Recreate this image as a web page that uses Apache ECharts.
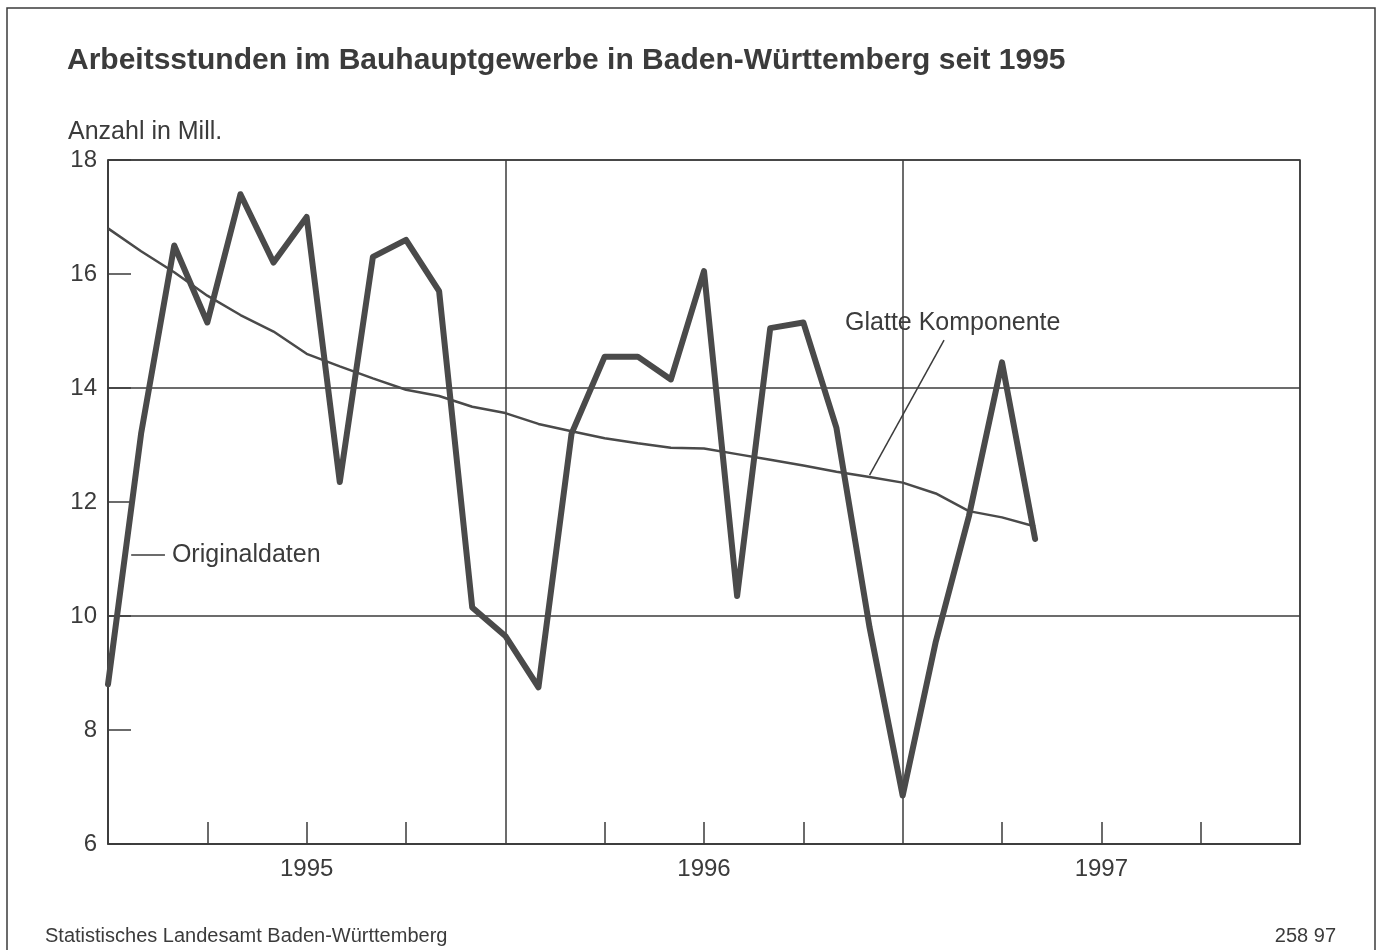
<!DOCTYPE html>
<html lang="de">
<head>
<meta charset="UTF-8">
<title>Arbeitsstunden im Bauhauptgewerbe</title>
<script src="https://cdn.jsdelivr.net/npm/echarts@6/dist/echarts.min.js"></script>
<style>
  body { margin: 0; background: #fff; }
  #main { width: 1378px; height: 950px; }
</style>
</head>
<body>
<div id="main"></div>
<script>
// Jahre der x-Achse (Beschriftung in der Jahresmitte)
var yearLabels = ['1995', '1996', '1997'];
// Originaldaten, monatlich ab Januar 1995, Mill. Stunden
var originalData = [8.8, 13.2, 16.5, 15.15, 17.4, 16.2, 17.0, 12.35, 16.3, 16.6, 15.7, 10.15,
                    9.65, 8.75, 13.2, 14.55, 14.55, 14.15, 16.05, 10.35, 15.05, 15.15, 13.3, 9.8,
                    6.85, 9.55, 11.75, 14.45, 11.35];
// glatte Komponente
var smoothData = [16.8, 16.4, 16.03, 15.62, 15.28, 14.99, 14.6, 14.38, 14.17, 13.97, 13.86, 13.67,
                  13.56, 13.37, 13.24, 13.12, 13.03, 12.95, 12.94, 12.84, 12.74, 12.64, 12.53, 12.44,
                  12.34, 12.15, 11.84, 11.73, 11.57];
var yTicks = [6, 18, 2];

// Monatskategorien Jan 1995 .. Jan 1998
var months = [];
yearLabels.forEach(function (y) {
  for (var m = 1; m <= 12; m++) months.push(y + '-' + (m < 10 ? '0' + m : m));
});
months.push('1998-01');

var ink = '#3b3b3b';
var font = 'Liberation Sans, Arial, Helvetica, sans-serif';

var chart = echarts.init(document.getElementById('main'));

var option = {
  animation: false,
  backgroundColor: '#fff',
  grid: {
    left: 108, top: 160, right: 78, bottom: 106,
    show: true, borderColor: ink, borderWidth: 1.5
  },
  xAxis: {
    type: 'category',
    data: months,
    boundaryGap: false,
    axisLine: { show: true, lineStyle: { color: ink, width: 1.5 } },
    axisTick: {
      show: true, inside: true, length: 22,
      interval: function (i) { return i % 3 === 0 && i % 12 !== 0; },
      lineStyle: { color: ink, width: 1.5 }
    },
    axisLabel: {
      interval: function (i) { return i % 12 === 6; },
      formatter: function (v) { return v.slice(0, 4); },
      fontSize: 24, color: ink, fontFamily: font, margin: 13
    },
    splitLine: {
      show: true,
      interval: function (i) { return i % 12 === 0; },
      lineStyle: { color: ink, width: 1.5 }
    }
  },
  yAxis: [{
    type: 'value',
    min: yTicks[0], max: yTicks[1], interval: yTicks[2],
    axisLine: { show: true, lineStyle: { color: ink, width: 1.5 } },
    axisTick: { show: true, inside: true, length: 23, lineStyle: { color: ink, width: 1.5 } },
    axisLabel: { fontSize: 24, color: ink, fontFamily: font, margin: 11 },
    splitLine: { show: false }
  }, {
    // nur fuer die durchgehenden Linien bei 10 und 14
    type: 'value',
    position: 'right',
    min: yTicks[0], max: yTicks[1], interval: yTicks[2] * 2,
    axisLine: { show: false },
    axisTick: { show: false },
    axisLabel: { show: false },
    splitLine: { show: true, lineStyle: { color: ink, width: 1.5 } }
  }],
  series: [{
    name: 'Glatte Komponente',
    type: 'line',
    data: smoothData,
    symbol: 'none',
    lineStyle: { color: '#4a4a4a', width: 2.5 },
    z: 3
  }, {
    name: 'Originaldaten',
    type: 'line',
    data: originalData,
    symbol: 'none',
    lineStyle: { color: '#4a4a4a', width: 6, join: 'round', cap: 'round' },
    z: 4
  }],
  graphic: [
    { type: 'rect', id: 'frame', shape: { x: 7, y: 8, width: 1368, height: 980 },
      style: { fill: null, stroke: ink, lineWidth: 1.5 }, silent: true },
    { type: 'text', id: 'title', left: 67, top: 46,
      style: { text: 'Arbeitsstunden im Bauhauptgewerbe in Baden-Württemberg seit 1995',
               font: 'bold 30px ' + font, fill: ink } },
    { type: 'text', id: 'unit', left: 68, top: 120,
      style: { text: 'Anzahl in Mill.', font: '25px ' + font, fill: ink } },
    { type: 'text', id: 'source', left: 45, top: 926,
      style: { text: 'Statistisches Landesamt Baden-Württemberg', font: '20px ' + font, fill: ink } },
    { type: 'text', id: 'code', right: 42, top: 926,
      style: { text: '258 97', font: '20px ' + font, fill: ink } }
  ]
};

chart.setOption(option);

// Pixelposition fuer gebrochene Monatsindizes
function px(i, v) {
  var k = Math.floor(i);
  var a = chart.convertToPixel({ gridIndex: 0 }, [k, v]);
  var b = chart.convertToPixel({ gridIndex: 0 }, [k + 1, v]);
  return [a[0] + (b[0] - a[0]) * (i - k), a[1]];
}

var g1 = px(25.25, 14.84), g2 = px(23, smoothData[23] + 0.03), gt = px(22.26, 15.14);
var o1 = px(0.7, 11.07), o2 = px(1.72, 11.07), ot = px(1.93, 11.07);

chart.setOption({
  graphic: [
    { type: 'line', id: 'leadG', shape: { x1: g1[0], y1: g1[1], x2: g2[0], y2: g2[1] },
      style: { stroke: ink, lineWidth: 1.5 }, z: 10 },
    { type: 'text', id: 'labG', x: gt[0], y: gt[1],
      style: { text: 'Glatte Komponente', font: '25px ' + font, fill: ink,
               textAlign: 'left', textVerticalAlign: 'middle' }, z: 10 },
    { type: 'line', id: 'leadO', shape: { x1: o1[0], y1: o1[1], x2: o2[0], y2: o2[1] },
      style: { stroke: ink, lineWidth: 1.5 }, z: 10 },
    { type: 'text', id: 'labO', x: ot[0], y: ot[1],
      style: { text: 'Originaldaten', font: '25px ' + font, fill: ink,
               textAlign: 'left', textVerticalAlign: 'middle' }, z: 10 }
  ]
});
</script>
</body>
</html>
